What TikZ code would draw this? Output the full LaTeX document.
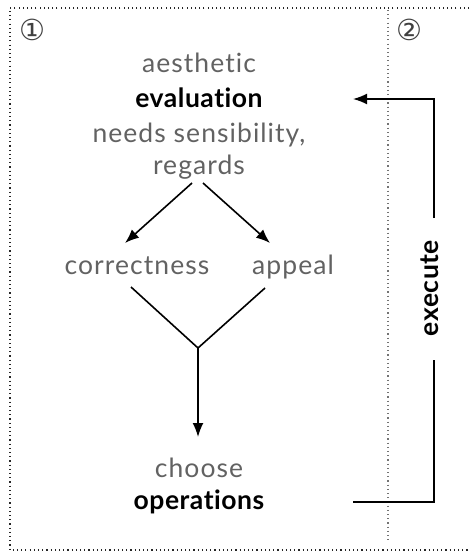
\documentclass[tikz,border=0pt]{standalone}
\usepackage{fontspec}
\setmainfont[Ligatures=CommonOff,LetterSpace=4,BoldFeatures={LetterSpace=2}]{Lato}
\newfontfamily\symfont{DejaVu Sans}
\usetikzlibrary{arrows.meta}
\definecolor{txtgrey}{HTML}{626262}
\begin{document}
\begin{tikzpicture}[x=1pt,y=-1pt,
  frame/.style={line width=1.2pt, dash pattern=on 1.1pt off 3.1pt, black!85},
  divider/.style={line width=1.1pt, dash pattern=on 1.1pt off 3.1pt, black!55},
  lbl/.style={anchor=base, inner sep=0pt, text=txtgrey, font=\fontsize{26.5}{28}\selectfont},
  key/.style={anchor=base, inner sep=0pt, text=black, font=\fontsize{26.5}{28}\selectfont\bfseries},
  num/.style={inner sep=0pt, text=black!75, font=\symfont\fontsize{29}{30}\selectfont},
  conn/.style={line width=1.6pt},
  arr/.style={conn, -{Latex[length=14pt,width=11pt]}}]
\useasboundingbox (0,0) rectangle (469,551);
% frame
\draw[frame] (469,8) -- (10,8) -- (10,550) -- (469,550);
\draw[divider] (388,10) -- (388,543);
\node[num] (n1) at (32,30) {①};
\node[num] (n2) at (409,30) {②};
% texts
\node[lbl] (aes) at (199,73) {aesthetic};
\node[key] (eval) at (199,107) {evaluation};
\node[lbl] (needs) at (199,142) {needs sensibility,};
\node[lbl] (reg) at (199,174) {regards};
\node[lbl] (corr) at (137,274) {correctness};
\node[lbl] (app) at (293,274) {appeal};
\node[lbl] (cho) at (199,477) {choose};
\node[key] (ops) at (199,509) {operations};
% coordinates
\coordinate (rl) at (192,183);
\coordinate (rr) at (203,183);
\coordinate (cl) at (125,243);
\coordinate (ar) at (270,243);
\coordinate (cb) at (131,287);
\coordinate (ab) at (265,288);
\coordinate (m) at (198,348);
\coordinate (ct) at (198,437);
\coordinate (os) at (353,502);
\coordinate (c1) at (434,502);
\coordinate (g1) at (434,360);
\coordinate (g2) at (434,218);
\coordinate (c2) at (434,99);
\coordinate (et) at (353,99);
\draw[arr] (rl) -- (cl);
\draw[arr] (rr) -- (ar);
\draw[conn] (cb) -- (m) -- (ab);
\draw[arr] (m) -- (ct);
\node[key, anchor=center, rotate=90] (exec) at (430,288) {execute};
\draw[conn] (os) -- (c1) -- (g1);
\draw[arr] (g2) -- (c2) -- (et);
\end{tikzpicture}
\end{document}
